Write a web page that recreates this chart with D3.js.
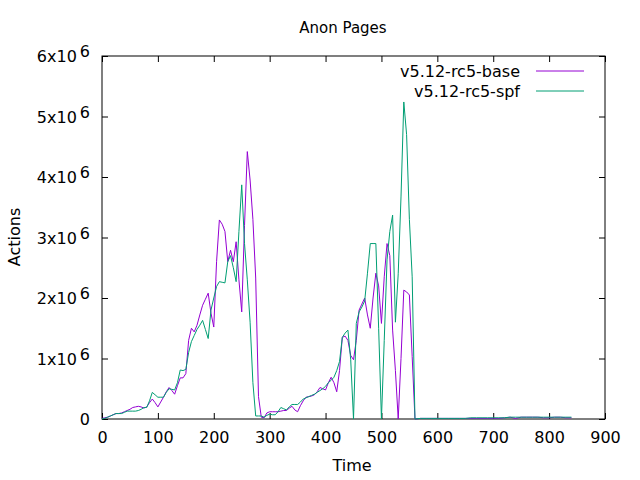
<!DOCTYPE html>
<html>
<head>
<meta charset="utf-8">
<script src="https://cdn.jsdelivr.net/npm/d3@7"></script>
<style>
  body { margin: 0; background: #fff; }
  svg text { font-family: "DejaVu Sans", sans-serif; }
</style>
</head>
<body>
<svg id="chart" width="640" height="480"></svg>
<script>
// ---- data (values in millions of actions) ----
const times = [
  0,5,10,15,20,25,30,35,40,45,50,55,60,65,70,75,80,85,90,95,
  100,105,110,115,120,125,130,135,140,145,150,155,160,165,170,175,180,185,190,195,
  200,205,210,215,220,225,230,235,240,245,250,255,260,265,270,275,280,285,290,295,
  300,305,310,315,320,325,330,335,340,345,350,355,360,365,370,375,380,385,390,395,
  400,405,410,415,420,425,430,435,440,445,450,455,460,465,470,475,480,485,490,495,
  500,505,510,515,520,525,530,535,540,545,550,555,560,
  570,580,590,600,610,620,630,640,650,660,670,680,690,700,710,720,730,740,750,760,
  770,780,790,800,810,820,830,840
];
const seriesNames = ["v5.12-rc5-base", "v5.12-rc5-spf"];
const baseMillions = [
  0.01,0.02,0.03,0.05,0.07,0.09,0.09,0.10,0.12,0.14,0.16,0.19,0.20,0.21,0.20,0.18,0.20,0.27,0.33,0.27,
  0.20,0.28,0.36,0.45,0.52,0.47,0.41,0.55,0.68,0.68,0.75,1.30,1.50,1.44,1.55,1.72,1.88,1.98,2.08,1.75,
  1.52,2.60,3.29,3.22,3.10,2.60,2.79,2.60,2.93,2.30,1.77,3.20,4.42,3.95,3.30,2.33,0.37,0.03,0.02,0.10,
  0.12,0.12,0.12,0.12,0.13,0.14,0.14,0.18,0.21,0.15,0.12,0.22,0.30,0.36,0.37,0.38,0.40,0.45,0.52,0.50,
  0.48,0.60,0.69,0.60,0.45,0.80,1.35,1.37,1.30,1.05,0.98,1.30,1.80,1.90,2.00,1.72,1.50,2.00,2.41,2.20,
  1.58,2.35,2.90,2.70,1.47,0.80,0.00,1.00,2.13,2.10,2.05,1.03,0.00,
  0.01,0.01,0.01,0.01,0.01,0.01,0.01,0.01,0.01,0.01,0.01,0.01,0.01,0.01,0.01,0.02,0.03,0.01,0.03,0.03,
  0.03,0.03,0.02,0.02,0.03,0.03,0.02,0.02
];
const spfMillions = [
  0.00,0.01,0.03,0.05,0.07,0.09,0.09,0.09,0.11,0.13,0.13,0.13,0.13,0.14,0.16,0.19,0.19,0.30,0.44,0.40,
  0.36,0.36,0.36,0.44,0.50,0.49,0.48,0.60,0.81,0.80,0.82,1.10,1.28,1.38,1.48,1.55,1.63,1.48,1.33,1.80,
  2.00,2.19,2.27,2.26,2.25,2.60,2.70,2.50,2.27,3.10,3.87,2.90,2.30,1.60,0.60,0.05,0.05,0.05,0.03,0.06,
  0.08,0.07,0.07,0.12,0.19,0.17,0.15,0.20,0.24,0.24,0.24,0.28,0.33,0.35,0.37,0.39,0.41,0.44,0.47,0.50,
  0.54,0.60,0.64,0.69,0.80,0.95,1.35,1.42,1.47,0.98,0.00,1.58,1.77,1.85,1.95,2.41,2.90,2.90,2.90,1.50,
  0.00,1.30,2.63,3.10,3.37,1.60,2.40,3.67,5.24,4.70,3.30,2.35,0.00,
  0.01,0.01,0.01,0.01,0.01,0.01,0.01,0.01,0.01,0.02,0.02,0.02,0.02,0.02,0.02,0.02,0.03,0.03,0.03,0.03,
  0.03,0.03,0.03,0.03,0.03,0.03,0.03,0.03
];
const xTicks = [0,100,200,300,400,500,600,700,800,900];
const yTickMantissas = [0,1,2,3,4,5,6];
const yExponent = 6;
const colors = ["#9400d3", "#009e73"];

// ---- layout ----
const svg = d3.select("#chart");
const plotLeft = 102, plotRight = 605, plotTop = 56, plotBottom = 419;
const x = d3.scaleLinear().domain([0, 900]).range([plotLeft, plotRight]);
const y = d3.scaleLinear().domain([0, 6e6]).range([plotBottom, plotTop]);

const tickLen = 6;
const fontSize = 16;
const titleSize = 15;

// axes with inward ticks
const gB = svg.append("g").attr("transform", `translate(0,${plotBottom})`)
  .call(d3.axisBottom(x).tickValues(xTicks).tickSizeInner(-tickLen).tickSizeOuter(0).tickPadding(19));
const gT = svg.append("g").attr("transform", `translate(0,${plotTop})`)
  .call(d3.axisTop(x).tickValues(xTicks).tickSizeInner(-tickLen).tickSizeOuter(0).tickFormat(""));
const yVals = yTickMantissas.map(m => m * Math.pow(10, yExponent));
const gL = svg.append("g").attr("transform", `translate(${plotLeft},0)`)
  .call(d3.axisLeft(y).tickValues(yVals).tickSizeInner(-tickLen).tickSizeOuter(0).tickFormat(""));
const gR = svg.append("g").attr("transform", `translate(${plotRight},0)`)
  .call(d3.axisRight(y).tickValues(yVals).tickSizeInner(-tickLen).tickSizeOuter(0).tickFormat(""));

[gB, gT, gL, gR].forEach(g => {
  g.select(".domain").remove();
  g.selectAll(".tick line").attr("stroke", "#000").attr("stroke-width", 1);
});
gB.selectAll(".tick text").attr("font-size", fontSize).attr("fill", "#000")
  .attr("font-family", "DejaVu Sans, sans-serif").attr("dy", "0.32em");

// y tick labels with superscript exponent
const yLab = svg.append("g");
yTickMantissas.forEach(m => {
  const t = yLab.append("text")
    .attr("x", 90).attr("y", y(m * Math.pow(10, yExponent)) + 6)
    .attr("text-anchor", "end").attr("font-size", fontSize).attr("fill", "#000");
  if (m === 0) {
    t.text("0");
  } else {
    t.append("tspan").text(m + "x10");
    t.append("tspan").attr("dy", -5).attr("dx", 3).attr("font-size", fontSize).text(yExponent);
  }
});

// frame
svg.append("rect").attr("x", plotLeft).attr("y", plotTop)
  .attr("width", plotRight - plotLeft).attr("height", plotBottom - plotTop)
  .attr("fill", "none").attr("stroke", "#000").attr("stroke-width", 1);

// lines
const seriesData = [baseMillions, spfMillions];
const line = d3.line().x(d => x(d[0])).y(d => y(d[1] * 1e6));
seriesData.forEach((vals, i) => {
  const pts = vals.map((v, j) => [times[j], v]);
  svg.append("path").datum(pts)
    .attr("d", line).attr("fill", "none")
    .attr("stroke", colors[i]).attr("stroke-width", 1);
});

// title and axis labels
svg.append("text").attr("x", 343).attr("y", 33).attr("text-anchor", "middle")
  .attr("font-size", titleSize).text("Anon Pages");
svg.append("text").attr("x", 352).attr("y", 471).attr("text-anchor", "middle")
  .attr("font-size", fontSize).text("Time");
svg.append("text").attr("transform", "translate(20,237) rotate(-90)")
  .attr("text-anchor", "middle").attr("font-size", fontSize).text("Actions");

// legend
seriesNames.forEach((name, i) => {
  const ly = 71 + i * 20;
  svg.append("text").attr("x", 520).attr("y", ly + 6).attr("text-anchor", "end")
    .attr("font-size", fontSize).text(name);
  svg.append("line").attr("x1", 536).attr("x2", 584).attr("y1", ly).attr("y2", ly)
    .attr("stroke", colors[i]).attr("stroke-width", 1);
});
</script>
</body>
</html>
